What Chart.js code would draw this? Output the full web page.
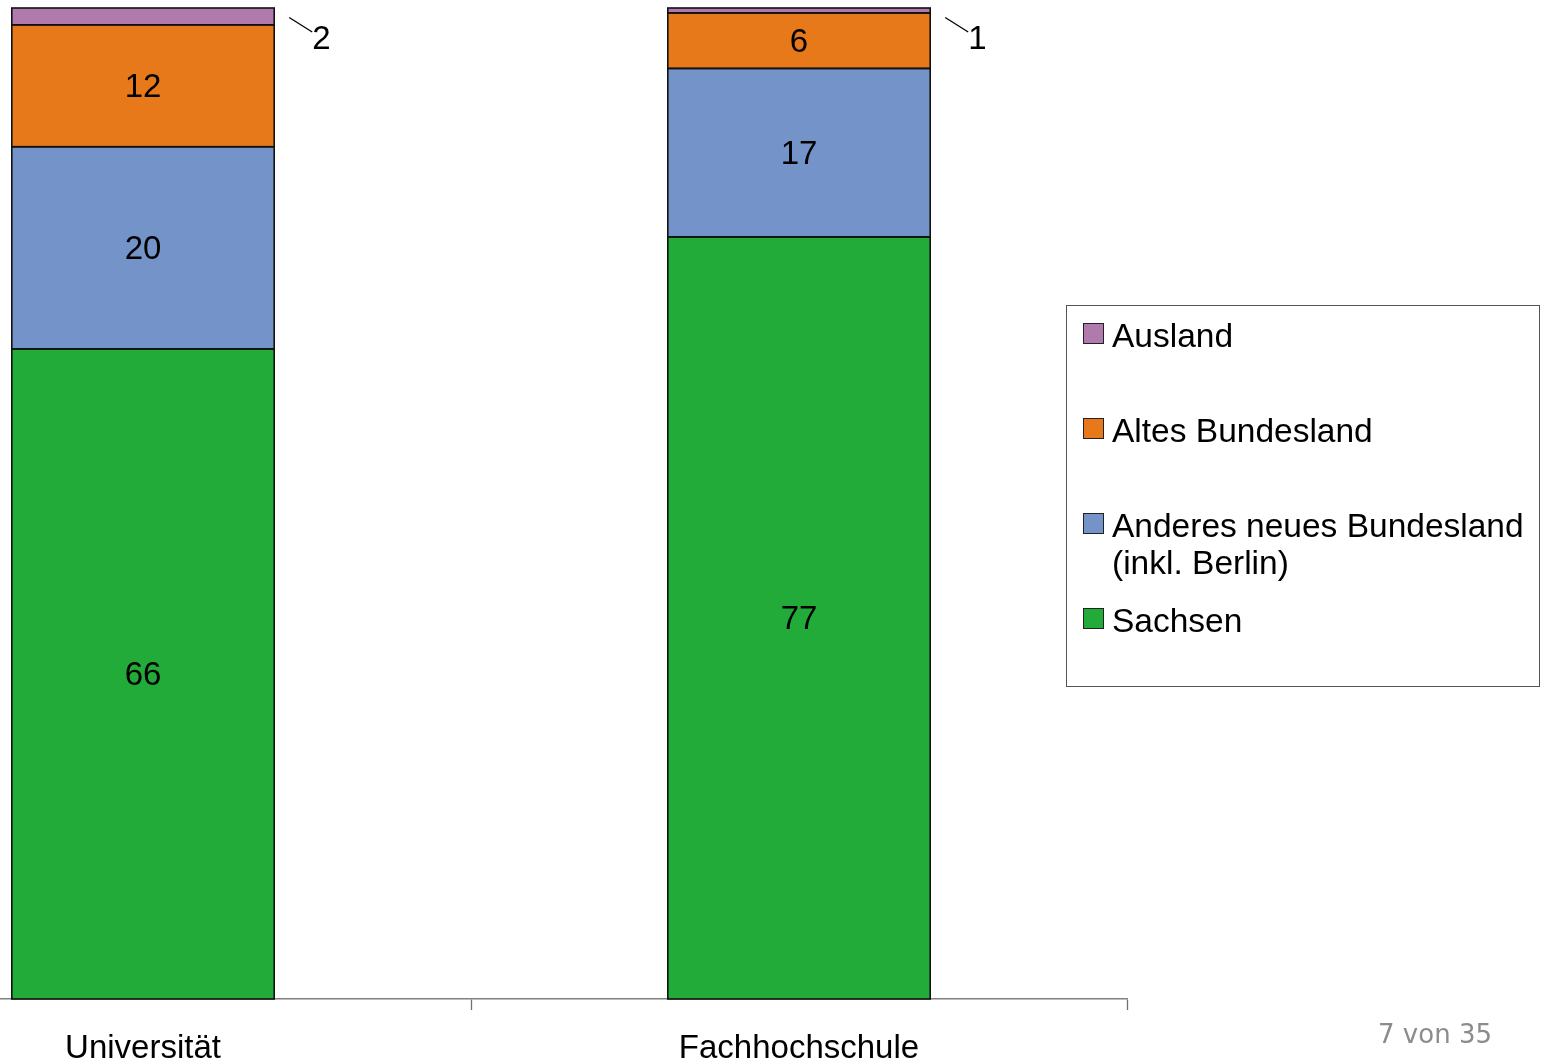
<!DOCTYPE html>
<html lang="de">
<head>
<meta charset="utf-8">
<title>Herkunft der Studierenden</title>
<script src="https://cdn.jsdelivr.net/npm/chart.js@4/dist/chart.umd.min.js"></script>
<style>
    html, body {
        margin: 0;
        padding: 0;
        background: #fff;
        overflow: hidden;
        width: 1541px;
        height: 1064px;
        font-family: "Liberation Sans", Arial, sans-serif;
    }
    #chartWrap {
        position: absolute;
        left: -185px; /* the first category is cut off on the left in the original slide */
        top: 0;
    }
    #legend {
        position: absolute;
        left: 1066px;
        top: 305px;
        width: 472px;
        height: 380px;
        border: 1px solid #555;
        box-sizing: content-box;
    }
    .legend-row {
        position: absolute;
        left: 16px;
        display: flex;
        align-items: flex-start;
        height: 95px;
    }
    .legend-swatch {
        width: 19px;
        height: 19px;
        border: 1.5px solid #222;
        margin-top: 6px;
        margin-right: 8px;
        flex: none;
    }
    .legend-text {
        font-size: 33.5px;
        line-height: 37px;
        color: #000;
        max-width: 425px;
    }
    #pageNo {
        position: absolute;
        right: 49px;
        top: 1019px;
        font-family: "DejaVu Sans", Verdana, sans-serif;
        font-size: 26px;
        line-height: 30px;
        color: #8c8c8c;
    }
</style>
</head>
<body>
<div id="chartWrap"><canvas id="originChart" width="1726" height="1064"></canvas></div>
<div id="legend"></div>
<div id="pageNo">7 von 35</div>

<script>
// Anteile in Prozent (Reihenfolge im Stapel: unten -> oben)
const categories = ['Universität', 'Fachhochschule'];
const sachsen = [65.6, 76.9];
const anderesNeues = [20.4, 17.0];
const altesBundesland = [12.3, 5.6];
const ausland = [1.7, 0.5];

const seriesNames = ['Sachsen', 'Anderes neues Bundesland (inkl. Berlin)', 'Altes Bundesland', 'Ausland'];
const seriesColors = ['#22ab39', '#7493c9', '#e8791a', '#b07aad'];
const yTicks = [0, 100]; // axis range, the y axis itself is hidden

const labelFont = '33px "Liberation Sans", Arial, sans-serif';

// Outline every segment on its edge (shared edges between segments get one line)
const segmentOutlines = {
    id: 'segmentOutlines',
    afterDatasetsDraw(chart) {
        const ctx = chart.ctx;
        ctx.save();
        ctx.strokeStyle = '#111';
        ctx.lineWidth = 1.6;
        chart.data.datasets.forEach((ds, i) => {
            chart.getDatasetMeta(i).data.forEach(bar => {
                const left = bar.x - bar.width / 2;
                const top = Math.min(bar.y, bar.base);
                ctx.strokeRect(left, top, bar.width, Math.abs(bar.base - bar.y));
            });
        });
        ctx.restore();
    }
};

// Draw the rounded values in the middle of each segment, the tiny top segment gets a leader line
const valueLabels = {
    id: 'valueLabels',
    afterDatasetsDraw(chart) {
        const ctx = chart.ctx;
        ctx.save();
        ctx.font = labelFont;
        ctx.fillStyle = '#000';
        ctx.textBaseline = 'middle';
        chart.data.datasets.forEach((ds, i) => {
            chart.getDatasetMeta(i).data.forEach((bar, j) => {
                const text = String(Math.round(ds.data[j]));
                if (i === chart.data.datasets.length - 1) {
                    const right = bar.x + bar.width / 2;
                    ctx.strokeStyle = '#000';
                    ctx.lineWidth = 1.3;
                    ctx.beginPath();
                    ctx.moveTo(right + 15, bar.y + 9.5);
                    ctx.lineTo(right + 38, bar.y + 24);
                    ctx.stroke();
                    ctx.textAlign = 'left';
                    ctx.fillText(text, right + 38, bar.y + 31.5);
                } else {
                    ctx.textAlign = 'center';
                    ctx.fillText(text, bar.x, (bar.y + bar.base) / 2 + 2);
                }
            });
        });
        ctx.restore();
    }
};

const seriesData = [sachsen, anderesNeues, altesBundesland, ausland];

const ctx = document.getElementById('originChart').getContext('2d');
const chart = new Chart(ctx, {
    type: 'bar',
    data: {
        labels: categories,
        datasets: seriesData.map((values, i) => ({
            label: seriesNames[i],
            data: values,
            backgroundColor: seriesColors[i],
            borderWidth: 0,
            barPercentage: 0.4,
            categoryPercentage: 1.0
        }))
    },
    options: {
        responsive: false,
        animation: false,
        layout: {
            padding: { top: 8, right: 414, left: 0, bottom: 0 }
        },
        plugins: {
            legend: { display: false },
            tooltip: { enabled: false }
        },
        scales: {
            x: {
                stacked: true,
                grid: {
                    offset: true,
                    drawOnChartArea: false,
                    drawTicks: true,
                    tickLength: 11,
                    tickColor: '#707070',
                    tickWidth: 1.3
                },
                border: { display: true, color: '#808080', width: 1.5 },
                ticks: {
                    padding: 19,
                    color: '#000',
                    font: { family: '"Liberation Sans", Arial, sans-serif', size: 33 }
                },
                afterFit: (scale) => { scale.height = 65; }
            },
            y: {
                stacked: true,
                display: false,
                min: yTicks[0],
                max: yTicks[yTicks.length - 1]
            }
        }
    },
    plugins: [segmentOutlines, valueLabels]
});

// HTML legend, top entry is the top of the stack
function buildLegend() {
    const legendEl = document.getElementById('legend');
    legendEl.innerHTML = '';
    const order = seriesNames.map((_, i) => i).reverse();
    order.forEach((idx, row) => {
        const item = document.createElement('div');
        item.className = 'legend-row';
        item.style.top = (10.5 + row * 95) + 'px';

        const swatch = document.createElement('div');
        swatch.className = 'legend-swatch';
        swatch.style.background = seriesColors[idx];

        const text = document.createElement('div');
        text.className = 'legend-text';
        text.textContent = seriesNames[idx];

        item.appendChild(swatch);
        item.appendChild(text);
        legendEl.appendChild(item);
    });
}

buildLegend();
</script>
</body>
</html>
